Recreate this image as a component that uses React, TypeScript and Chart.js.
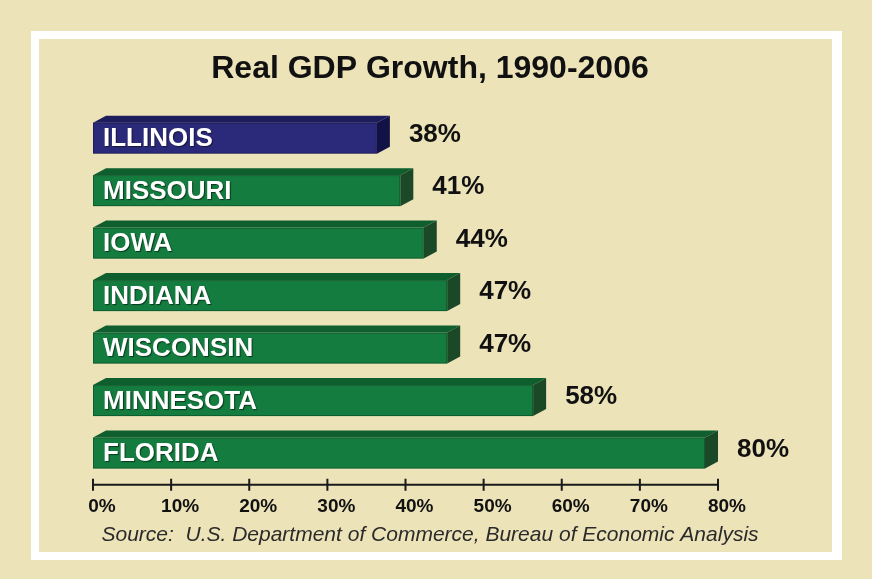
import React, { useEffect, useRef } from 'react';
import { Chart, registerables } from 'chart.js';

Chart.register(...registerables);

const states = ['ILLINOIS', 'MISSOURI', 'IOWA', 'INDIANA', 'WISCONSIN', 'MINNESOTA', 'FLORIDA'];
const growth = [38, 41, 44, 47, 47, 58, 80];
const highlighted = ['ILLINOIS'];
const tickValues = [0, 10, 20, 30, 40, 50, 60, 70, 80];
const titleText = 'Real GDP Growth, 1990-2006';
const sourceText = 'Source:  U.S. Department of Commerce, Bureau of Economic Analysis';

const FONT = "'Liberation Sans', Arial, Helvetica, sans-serif";
const BG = '#ece3b9';

const BLUE = { front: '#2b2a7a', top: '#1d1c5c', side: '#131246' };
const GREEN = { front: '#137c3e', top: '#0e5e2e', side: '#1b4826' };

const bar3dPlugin = {
  id: 'bar3d',
  beforeDatasetDraw(chart: any, args: any) {
    const ctx = chart.ctx;
    const meta = args.meta;
    const dx = 13;
    const dy = 7;
    meta.data.forEach((el: any, i: number) => {
      const { x, y, base, height } = el.getProps(['x', 'y', 'base', 'height'], true);
      const pal = highlighted.includes(states[i]) ? BLUE : GREEN;
      const top = y - height / 2;
      const bottom = y + height / 2;
      const ft = top + dy;
      const fr = x - dx;
      ctx.save();
      // front face
      ctx.fillStyle = pal.front;
      ctx.fillRect(base, ft, fr - base, bottom - ft);
      ctx.strokeStyle = 'rgba(0,0,0,0.25)';
      ctx.lineWidth = 1;
      ctx.strokeRect(base + 0.5, ft + 0.5, fr - base - 1, bottom - ft - 1);
      // top face
      ctx.fillStyle = pal.top;
      ctx.beginPath();
      ctx.moveTo(base, ft);
      ctx.lineTo(base + dx, top);
      ctx.lineTo(x, top);
      ctx.lineTo(fr, ft);
      ctx.closePath();
      ctx.fill();
      // side face
      ctx.fillStyle = pal.side;
      ctx.beginPath();
      ctx.moveTo(fr, ft);
      ctx.lineTo(x, top);
      ctx.lineTo(x, bottom - dy);
      ctx.lineTo(fr, bottom);
      ctx.closePath();
      ctx.fill();
      // category label inside bar
      ctx.font = `bold 26px ${FONT}`;
      ctx.textAlign = 'left';
      ctx.textBaseline = 'middle';
      ctx.shadowColor = 'rgba(0,0,0,0.55)';
      ctx.shadowOffsetX = 1;
      ctx.shadowOffsetY = 1;
      ctx.shadowBlur = 1;
      ctx.fillStyle = '#ffffff';
      ctx.fillText(states[i], base + 10, (ft + bottom) / 2 + 1);
      ctx.shadowColor = 'transparent';
      // value label
      ctx.font = `bold 26px ${FONT}`;
      ctx.fillStyle = '#111111';
      ctx.fillText(growth[i] + '%', x + 19, y);
      ctx.restore();
    });
    return false;
  },
};

const axisPlugin = {
  id: 'axisLine',
  afterDraw(chart: any) {
    const ctx = chart.ctx;
    const xs = chart.scales.x;
    const yLine = chart.chartArea.bottom + 9;
    ctx.save();
    ctx.strokeStyle = '#1a1a1a';
    ctx.lineWidth = 2;
    ctx.beginPath();
    ctx.moveTo(xs.getPixelForValue(tickValues[0]), yLine);
    ctx.lineTo(xs.getPixelForValue(tickValues[tickValues.length - 1]), yLine);
    tickValues.forEach((v) => {
      const px = xs.getPixelForValue(v);
      ctx.moveTo(px, yLine - 6);
      ctx.lineTo(px, yLine + 6);
    });
    ctx.stroke();
    ctx.restore();
  },
};

export default function App() {
  const canvasRef = useRef<HTMLCanvasElement | null>(null);

  useEffect(() => {
    document.body.style.margin = '0';
    const canvas = canvasRef.current;
    if (!canvas) return;
    Chart.defaults.font.family = FONT;
    const chart = new Chart(canvas, {
      type: 'bar',
      data: {
        labels: states,
        datasets: [
          {
            data: growth,
            backgroundColor: states.map((s) => (highlighted.includes(s) ? BLUE.front : GREEN.front)),
            barThickness: 38,
            yAxisID: 'y',
          },
        ],
      },
      plugins: [bar3dPlugin, axisPlugin],
      options: {
        indexAxis: 'y',
        animation: false,
        responsive: false,
        maintainAspectRatio: false,
        devicePixelRatio: 1,
        layout: { padding: { left: 20, right: 32, top: 0, bottom: 0 } },
        plugins: {
          legend: { display: false },
          tooltip: { enabled: false },
          title: {
            display: true,
            text: titleText,
            color: '#111111',
            font: { size: 32, weight: 'bold', family: FONT },
            padding: { top: 50, bottom: 20 },
          },
          subtitle: {
            display: true,
            position: 'bottom',
            text: sourceText,
            color: '#2a2a2a',
            font: { size: 21, style: 'italic', family: FONT },
            padding: { top: 7, bottom: 31 },
          },
        },
        scales: {
          x: {
            type: 'linear',
            min: 0,
            max: 80,
            afterBuildTicks: (s: any) => {
              s.ticks = tickValues.map((v) => ({ value: v }));
            },
            afterFit: (s: any) => {
              s.height = 40;
            },
            ticks: {
              callback: (v: any) => v + '%',
              color: '#111111',
              font: { size: 19, weight: 'bold', family: FONT },
              padding: 20,
              labelOffset: 9,
              maxRotation: 0,
              autoSkip: false,
            },
            grid: { display: false, drawTicks: false },
            border: { display: false },
          },
          y: {
            type: 'category',
            position: 'left',
            display: true,
            ticks: { display: false },
            grid: { display: false, drawTicks: false },
            border: { display: false },
            afterFit: (s: any) => {
              s.width = 73;
            },
          },
          yRight: {
            type: 'category',
            position: 'right',
            display: true,
            ticks: { display: false },
            grid: { display: false, drawTicks: false },
            border: { display: false },
            afterFit: (s: any) => {
              s.width = 122;
            },
          },
        },
      },
    } as any);
    return () => chart.destroy();
  }, []);

  return (
    <div style={{ position: 'relative', width: 872, height: 579, background: BG, overflow: 'hidden' }}>
      <div
        style={{
          position: 'absolute',
          left: 31,
          top: 31,
          width: 811,
          height: 529,
          border: '8px solid #ffffff',
          borderRight: '10px solid #ffffff',
          boxSizing: 'border-box',
        }}
      />
      <canvas
        ref={canvasRef}
        width={872}
        height={579}
        style={{ position: 'absolute', left: 0, top: 0, width: 872, height: 579, display: 'block' }}
      />
    </div>
  );
}
